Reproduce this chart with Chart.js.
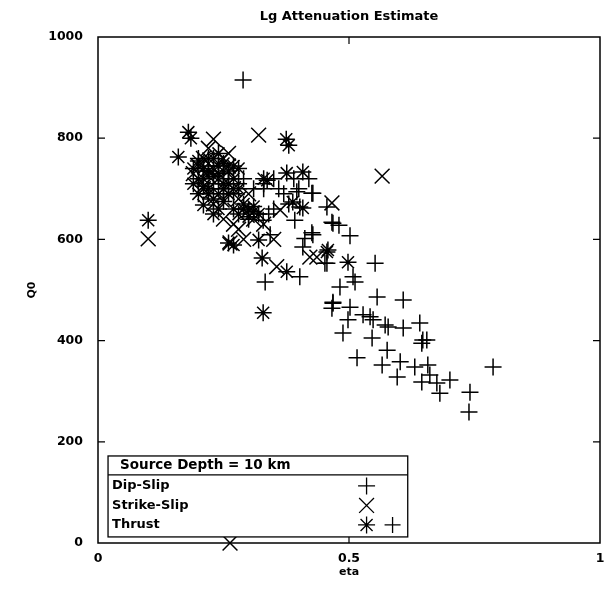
<!DOCTYPE html>
<html>
<head>
<meta charset="utf-8">
<script src="https://cdn.jsdelivr.net/npm/chart.js@4/dist/chart.umd.min.js"></script>
<style>
  html, body { margin: 0; padding: 0; background: #fff; }
  #wrap { width: 605px; height: 592px; }
</style>
</head>
<body>
<div id="wrap"><canvas id="myChart" width="605" height="592"></canvas></div>
<script>
// eta / Q0 pairs
const dipSlip = [
  [0.289, 915],
  [0.333, 516], [0.402, 526], [0.343, 609], [0.329, 638], [0.396, 694], [0.426, 691],
  [0.402, 664], [0.392, 638], [0.426, 613], [0.408, 585], [0.456, 664], [0.466, 634],
  [0.456, 553], [0.468, 474], [0.428, 691], [0.468, 632], [0.480, 628], [0.502, 607],
  [0.428, 609], [0.412, 602], [0.452, 553], [0.552, 553], [0.508, 526], [0.512, 516],
  [0.482, 506], [0.468, 476], [0.466, 464], [0.502, 466], [0.556, 486], [0.608, 480],
  [0.528, 451], [0.542, 447], [0.548, 441], [0.572, 431], [0.498, 441], [0.488, 415],
  [0.546, 405], [0.608, 425], [0.641, 435], [0.647, 401], [0.516, 366], [0.578, 427],
  [0.645, 395], [0.655, 401], [0.576, 381], [0.566, 352], [0.602, 358], [0.596, 328],
  [0.631, 348], [0.657, 352], [0.661, 332], [0.645, 318], [0.675, 316], [0.701, 322],
  [0.681, 296], [0.741, 298], [0.739, 259], [0.787, 348],
  [0.20, 760], [0.23, 710], [0.25, 730], [0.27, 690], [0.29, 720], [0.31, 700],
  [0.33, 710], [0.35, 720], [0.36, 700], [0.37, 690], [0.39, 720], [0.40, 700],
  [0.38, 670], [0.35, 660], [0.34, 650], [0.30, 640], [0.33, 700], [0.42, 720],
  [0.21, 735], [0.24, 700], [0.26, 720], [0.28, 710], [0.22, 745], [0.25, 690]
];
const strikeSlip = [
  [0.10, 601], [0.263, 0], [0.263, 593], [0.356, 546], [0.363, 658], [0.466, 672],
  [0.436, 565], [0.422, 565], [0.566, 725], [0.23, 798], [0.32, 806], [0.22, 780],
  [0.25, 760], [0.27, 700], [0.24, 690], [0.30, 690], [0.28, 620], [0.31, 640],
  [0.23, 740], [0.26, 770], [0.21, 700], [0.33, 630], [0.35, 600], [0.29, 600],
  [0.19, 730], [0.21, 760], [0.24, 720], [0.26, 745], [0.22, 725], [0.28, 680],
  [0.25, 640], [0.27, 630], [0.23, 670], [0.20, 745]
];
const thrust = [
  [0.10, 638], [0.16, 763], [0.18, 812], [0.185, 800], [0.20, 720], [0.21, 740],
  [0.22, 700], [0.22, 760], [0.23, 680], [0.24, 730], [0.25, 710], [0.25, 750],
  [0.26, 690], [0.27, 720], [0.27, 660], [0.28, 650], [0.29, 660], [0.30, 658],
  [0.31, 655], [0.32, 650], [0.23, 650], [0.21, 668], [0.26, 593], [0.27, 589],
  [0.32, 599], [0.327, 563], [0.376, 536], [0.329, 455], [0.337, 717], [0.376, 731],
  [0.38, 786], [0.375, 798], [0.388, 674], [0.408, 733], [0.408, 662], [0.456, 575],
  [0.458, 579], [0.498, 555], [0.20, 690], [0.24, 770], [0.28, 740], [0.33, 720],
  [0.19, 740], [0.20, 755], [0.21, 720], [0.22, 735], [0.23, 760], [0.24, 745],
  [0.25, 700], [0.26, 735], [0.27, 745], [0.21, 705], [0.23, 725], [0.26, 710],
  [0.28, 700], [0.22, 690], [0.25, 675], [0.30, 645], [0.29, 670], [0.31, 665],
  [0.19, 710], [0.24, 660]
];
const xTicks = [0, 0.5, 1];
const yTicks = [0, 200, 400, 600, 800, 1000];
const legendTitle = 'Source Depth = 10 km';
const legendNames = ['Dip-Slip', 'Strike-Slip', 'Thrust'];

const FONT = 'DejaVu Sans';
const toXY = arr => arr.map(p => ({ x: p[0], y: p[1] }));

// box round the plot, inward ticks and the boxed legend
const framePlugin = {
  id: 'frame',
  afterDatasetsDraw(chart) {
    const { ctx, chartArea: a, scales } = chart;
    const xs = scales.x, ys = scales.y;
    ctx.save();
    ctx.strokeStyle = '#000';
    ctx.lineWidth = 1.5;
    ctx.strokeRect(a.left, a.top, a.right - a.left, a.bottom - a.top);
    ctx.lineWidth = 1.2;
    ctx.beginPath();
    yTicks.slice(1, -1).forEach(v => {
      const py = ys.getPixelForValue(v);
      ctx.moveTo(a.left, py); ctx.lineTo(a.left + 7, py);
      ctx.moveTo(a.right, py); ctx.lineTo(a.right - 7, py);
    });
    xTicks.slice(1, -1).forEach(v => {
      const px = xs.getPixelForValue(v);
      ctx.moveTo(px, a.bottom); ctx.lineTo(px, a.bottom - 7);
      ctx.moveTo(px, a.top); ctx.lineTo(px, a.top + 7);
    });
    ctx.stroke();

    // legend box
    const L = xs.getPixelForValue(0.02), R = xs.getPixelForValue(0.617);
    const T = ys.getPixelForValue(172), B = ys.getPixelForValue(12);
    const rowH = 19.5;
    ctx.fillStyle = '#fff';
    ctx.fillRect(L, T, R - L, B - T);
    ctx.lineWidth = 1.3;
    ctx.strokeRect(L, T, R - L, B - T);
    ctx.beginPath();
    ctx.moveTo(L, T + 19); ctx.lineTo(R, T + 19);
    ctx.stroke();
    ctx.fillStyle = '#000';
    ctx.font = 'bold 13.5px "' + FONT + '"';
    ctx.textBaseline = 'middle';
    ctx.textAlign = 'left';
    ctx.fillText(legendTitle, L + 12, T + 10);
    ctx.font = 'bold 13px "' + FONT + '"';
    const symX = xs.getPixelForValue(0.535);
    legendNames.forEach((name, i) => {
      const cy = T + 19 + rowH * i + 11;
      ctx.fillText(name, L + 4, cy);
      const ds = chart.data.datasets[i];
      ctx.strokeStyle = '#000';
      ctx.lineWidth = 1.3;
      Chart.helpers.drawPoint(ctx, { pointStyle: ds.pointStyle, radius: ds.pointRadius, borderWidth: 1.3 }, symX, cy);
      if (i === 2) {
        Chart.helpers.drawPoint(ctx, { pointStyle: 'cross', radius: 8, borderWidth: 1.3 }, symX + 26, cy);
      }
    });
    ctx.restore();
  }
};

const mk = (label, pts, style, r) => ({
  label: label,
  data: toXY(pts),
  showLine: false,
  pointStyle: style,
  pointRadius: r,
  pointHoverRadius: r,
  borderColor: '#000',
  backgroundColor: '#000',
  borderWidth: 1.5,
  pointBorderWidth: 1.5
});

const ctx = document.getElementById('myChart').getContext('2d');
new Chart(ctx, {
  type: 'scatter',
  data: {
    datasets: [
      mk(legendNames[0], dipSlip, 'cross', 8.5),
      mk(legendNames[1], strikeSlip, 'crossRot', 10.5),
      mk(legendNames[2], thrust, 'star', 8.5)
    ]
  },
  options: {
    responsive: false,
    animation: false,
    events: [],
    clip: false,
    layout: { autoPadding: false, padding: { left: 0, right: 5, top: 0, bottom: 0 } },
    plugins: {
      legend: { display: false },
      tooltip: { enabled: false },
      title: {
        display: true,
        text: 'Lg Attenuation Estimate',
        fullSize: false,
        color: '#000',
        font: { family: FONT, size: 13, weight: 'bold', lineHeight: 1.2 },
        padding: { top: 9, bottom: 12.4 }
      }
    },
    scales: {
      x: {
        type: 'linear',
        min: 0, max: 1,
        afterBuildTicks: s => { s.ticks = xTicks.map(v => ({ value: v })); },
        afterFit: s => { s.height = 49; s.paddingLeft = 0; s.paddingRight = 0; },
        grid: { display: false },
        border: { display: false },
        ticks: {
          color: '#000',
          padding: 0,
          maxRotation: 0,
          font: { family: FONT, size: 12.5, weight: 'bold' },
          callback: v => String(v)
        },
        title: {
          display: true, text: 'eta', color: '#000',
          padding: { top: 0, bottom: 13 },
          font: { family: FONT, size: 11, weight: 'bold' }
        }
      },
      y: {
        type: 'linear',
        min: 0, max: 1000,
        afterBuildTicks: s => { s.ticks = yTicks.map(v => ({ value: v })); },
        afterFit: s => { s.width = 98; s.paddingTop = 0; s.paddingBottom = 0; },
        grid: { display: false },
        border: { display: false },
        ticks: {
          color: '#000',
          padding: 7,
          font: { family: FONT, size: 12.5, weight: 'bold' },
          callback: v => String(v)
        },
        title: {
          display: true, text: 'Q0', color: '#000',
          padding: { top: 26, bottom: 0 },
          font: { family: FONT, size: 11, weight: 'bold' }
        }
      }
    }
  },
  plugins: [framePlugin]
});
</script>
</body>
</html>
